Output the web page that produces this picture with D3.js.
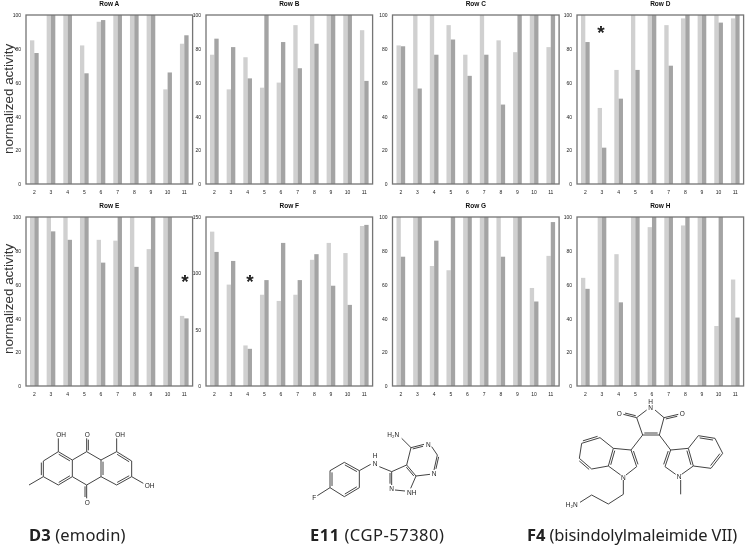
<!DOCTYPE html>
<html>
<head>
<meta charset="utf-8">
<script src="https://cdn.jsdelivr.net/npm/d3@7"></script>
<style>
    html, body { margin: 0; padding: 0; background: #fff; }
    svg { display: block; }
</style>
</head>
<body>
<svg id="chart" width="745" height="547"></svg>
<script>
const wells = ["2", "3", "4", "5", "6", "7", "8", "9", "10", "11"];
const series = ["light", "dark"];

const rowALight = [85, 100, 100, 82, 96, 100, 100, 100, 56, 83];
const rowADark = [77.5, 100, 100, 65.5, 97, 100, 100, 100, 66, 88];
const rowBLight = [76.5, 56, 75, 57, 60, 94, 100, 100, 100, 91];
const rowBDark = [86, 81, 62.5, 100, 84, 68.5, 83, 100, 100, 61];
const rowCLight = [82, 100, 100, 94, 76.5, 100, 85, 78, 100, 81];
const rowCDark = [81.5, 56.5, 76.5, 85.5, 64, 76.5, 47, 100, 100, 100];
const rowDLight = [100, 45, 67.5, 100, 100, 94, 98, 100, 100, 98];
const rowDDark = [84, 21.5, 50.5, 67.5, 100, 70, 100, 100, 95.5, 100];
const rowELight = [100, 100, 100, 100, 86.5, 86, 100, 81, 100, 41.5];
const rowEDark = [100, 91.5, 86.5, 100, 73, 100, 70.5, 100, 100, 40];
const rowFLight = [137, 90, 36, 81, 75.5, 81, 112, 127, 118, 142];
const rowFDark = [119, 111, 33, 94, 127, 94, 117, 89, 72, 143];
const rowGLight = [100, 100, 71, 68.5, 100, 100, 100, 100, 58, 77];
const rowGDark = [76.5, 100, 86, 100, 100, 100, 76.5, 100, 50, 97];
const rowHLight = [64, 100, 78, 100, 94, 100, 95, 100, 35.5, 63];
const rowHDark = [57.5, 100, 49.5, 100, 100, 100, 100, 100, 100, 40.5];

const ticks100 = [0, 20, 40, 60, 80, 100];
const ticks150 = [0, 50, 100, 150];

const colors = { light: "#d0d0d0", dark: "#a4a4a4" };
const frameColor = "#747474";

// panel layout: title, values, left edge, top edge, y ticks
const panels = [
    { title: "Row A", light: rowALight, dark: rowADark, left: 26, top: 15, ticks: ticks100 },
    { title: "Row B", light: rowBLight, dark: rowBDark, left: 206, top: 15, ticks: ticks100 },
    { title: "Row C", light: rowCLight, dark: rowCDark, left: 392.5, top: 15, ticks: ticks100 },
    { title: "Row D", light: rowDLight, dark: rowDDark, left: 577, top: 15, ticks: ticks100 },
    { title: "Row E", light: rowELight, dark: rowEDark, left: 26, top: 217, ticks: ticks100 },
    { title: "Row F", light: rowFLight, dark: rowFDark, left: 206, top: 217, ticks: ticks150 },
    { title: "Row G", light: rowGLight, dark: rowGDark, left: 392.5, top: 217, ticks: ticks100 },
    { title: "Row H", light: rowHLight, dark: rowHDark, left: 577, top: 217, ticks: ticks100 }
];
const panelWidth = 166.6;
const panelHeight = 169;

const svg = d3.select("#chart");

// the reference is a soft, resampled image
svg.append("defs").append("filter")
    .attr("id", "soft")
    .attr("x", 0).attr("y", 0).attr("width", "100%").attr("height", "100%")
    .append("feGaussianBlur")
    .attr("stdDeviation", 0.55);

const root = svg.append("g").attr("filter", "url(#soft)");
root.append("rect").attr("width", 745).attr("height", 547).attr("fill", "#fff");

// ==========================================
// 1. Bar panels
// ==========================================

panels.forEach(p => {
    const g = root.append("g").attr("transform", `translate(${p.left},${p.top})`);

    const x = d3.scaleBand().domain(wells).range([0, panelWidth]).paddingInner(0.48).paddingOuter(0.24);
    const x1 = d3.scaleBand().domain(series).range([0, x.bandwidth()]);
    const y = d3.scaleLinear().domain([0, d3.max(p.ticks)]).range([panelHeight, 0]);

    series.forEach(s => {
        g.selectAll(".bar-" + s)
            .data(p[s])
            .enter().append("rect")
            .attr("class", "bar-" + s)
            .attr("x", (d, i) => x(wells[i]) + x1(s))
            .attr("y", d => y(d))
            .attr("width", x1.bandwidth())
            .attr("height", d => panelHeight - y(d))
            .attr("fill", colors[s]);
    });

    g.append("rect")
        .attr("width", panelWidth)
        .attr("height", panelHeight)
        .attr("fill", "none")
        .attr("stroke", frameColor)
        .attr("stroke-width", 1.3);

    const yAxis = g.append("g").call(d3.axisLeft(y).tickValues(p.ticks).tickSize(0).tickPadding(5));
    const xAxis = g.append("g")
        .attr("transform", `translate(0,${panelHeight})`)
        .call(d3.axisBottom(x).tickSize(0).tickPadding(6));

    [xAxis, yAxis].forEach(a => {
        a.select(".domain").remove();
        a.selectAll("text")
            .attr("fill", "#222")
            .style("font", "5px 'Liberation Sans'");
    });

    g.append("text")
        .attr("x", panelWidth / 2)
        .attr("y", -9)
        .attr("text-anchor", "middle")
        .style("font", "bold 6.5px 'Liberation Sans'")
        .attr("fill", "#111")
        .text(p.title);
});

// y axis titles
[99, 299].forEach(cy => {
    root.append("text")
        .attr("transform", `translate(12.5,${cy}) rotate(-90)`)
        .attr("text-anchor", "middle")
        .style("font", "13.4px 'Liberation Sans'")
        .attr("fill", "#333")
        .text("normalized activity");
});

// significance marks
const stars = [[601, 38.5], [185, 287.5], [250, 287.5]];
root.selectAll(".star")
    .data(stars)
    .enter().append("text")
    .attr("class", "star")
    .attr("x", d => d[0])
    .attr("y", d => d[1])
    .attr("text-anchor", "middle")
    .style("font", "bold 19px 'Liberation Sans'")
    .attr("fill", "#222")
    .text("*");

// ==========================================
// 2. Structures (atom positions, in crop units = 3x)
// bond: x1, y1, x2, y2, second line offset (0 = single)
// ==========================================

const emodinBonds = [
    [175,140,130,168,0], [130,168,130,215,6], [130,215,175,240,0], [175,240,217,215,-6], [217,215,217,165,0], [217,165,175,140,-6],
    [217,165,260,140,0], [260,140,303,165,0], [303,165,303,215,-6], [303,215,260,240,0], [260,240,217,215,0],
    [303,165,350,140,0], [350,140,395,168,6], [395,168,395,215,0], [395,215,350,240,6], [350,240,303,215,0],
    [175,140,175,100,0], [260,140,260,100,5], [350,140,350,100,0], [130,215,87,240,0], [395,215,430,235,0], [260,240,260,280,5]
];
const emodinLabels = [["OH",183,88], ["O",262,88], ["OH",360,88], ["OH",449,241], ["O",262,293]];

const cgpBonds = [
    [193,172,238,197,6], [238,197,238,248,0], [238,248,193,275,6], [193,275,150,248,0], [150,248,150,197,6], [150,197,193,172,0],
    [150,248,112,272,0], [238,197,272,178,0], [298,185,335,200,0],
    [335,200,380,180,0], [335,200,335,240,5], [345,255,375,258,0], [380,180,408,213,5], [408,213,392,250,0],
    [380,180,393,128,0], [393,128,432,118,5], [455,125,472,150,0], [472,150,462,195,-5], [450,208,408,213,0], [393,128,365,100,0]
];
const cgpLabels = [["F",103,278], ["N",285,176], ["H",285,153], ["N",335,252], ["NH",395,262], ["N",445,118], ["N",462,207], ["H\u2082N",340,90]];

const bimBonds = [
    [350,45,320,68,0], [375,45,402,68,0], [320,68,338,120,0], [402,68,388,120,0], [338,120,388,120,-6],
    [320,68,280,58,5], [402,68,445,58,5],
    [338,120,303,165,0], [303,165,320,215,-6], [320,215,288,240,0], [272,240,235,213,0], [235,213,250,160,6], [250,160,303,165,0],
    [250,160,210,128,0], [210,128,155,145,6], [155,145,148,190,0], [148,190,185,222,6], [185,222,235,213,0],
    [280,255,280,298,0], [280,298,235,327,0], [235,327,185,300,0], [185,300,150,322,0],
    [388,120,422,165,0], [422,165,405,215,6], [405,215,437,238,0], [455,238,490,213,0], [490,213,475,160,-6], [475,160,422,165,0],
    [475,160,505,122,0], [505,122,555,130,6], [555,130,578,175,0], [578,175,543,220,6], [543,220,490,213,0],
    [452,255,452,298,0]
];
const bimLabels = [["N",362,38], ["H",362,20], ["O",268,56], ["O",457,56], ["N",280,248], ["N",447,244], ["H\u2082N",125,328]];

function drawMolecule(left, top, bonds, labels) {
    const mol = root.append("g").attr("transform", `translate(${left},${top})`);
    const sx = d3.scaleLinear().domain([0, 3]).range([0, 1]);

    bonds.forEach(b => {
        mol.append("line")
            .attr("x1", sx(b[0])).attr("y1", sx(b[1]))
            .attr("x2", sx(b[2])).attr("y2", sx(b[3]))
            .attr("stroke", "#444").attr("stroke-width", 1);
        if (b[4] !== 0) {
            // second line of a double bond, shifted sideways and a bit shorter
            const dx = b[2] - b[0], dy = b[3] - b[1];
            const len = Math.hypot(dx, dy);
            const ox = -dy / len * b[4], oy = dx / len * b[4];
            mol.append("line")
                .attr("x1", sx(b[0] + ox + dx * 0.1)).attr("y1", sx(b[1] + oy + dy * 0.1))
                .attr("x2", sx(b[2] + ox - dx * 0.1)).attr("y2", sx(b[3] + oy - dy * 0.1))
                .attr("stroke", "#444").attr("stroke-width", 1);
        }
    });

    labels.forEach(l => {
        mol.append("text")
            .attr("x", sx(l[1]))
            .attr("y", sx(l[2]))
            .attr("dy", "0.36em")
            .attr("text-anchor", "middle")
            .style("font", "6.5px 'Liberation Sans'")
            .attr("fill", "#222")
            .text(l[0]);
    });
}

drawMolecule(0, 405, emodinBonds, emodinLabels);
drawMolecule(280, 405, cgpBonds, cgpLabels);
drawMolecule(530, 395, bimBonds, bimLabels);

// compound names
const names = [
    { bold: "D3", rest: " (emodin)", x: 29, spacing: 0.15 },
    { bold: "E11", rest: " (CGP-57380)", x: 310, spacing: 0.5 },
    { bold: "F4", rest: " (bisindolylmaleimide VII)", x: 527, spacing: -0.12 }
];
names.forEach(n => {
    const t = root.append("text")
        .attr("x", n.x)
        .attr("y", 541)
        .style("font", "16.5px 'Noto Sans'")
        .style("letter-spacing", n.spacing + "px")
        .attr("fill", "#222");
    t.append("tspan").style("font-weight", "bold").text(n.bold);
    t.append("tspan").text(n.rest);
});
</script>
</body>
</html>
